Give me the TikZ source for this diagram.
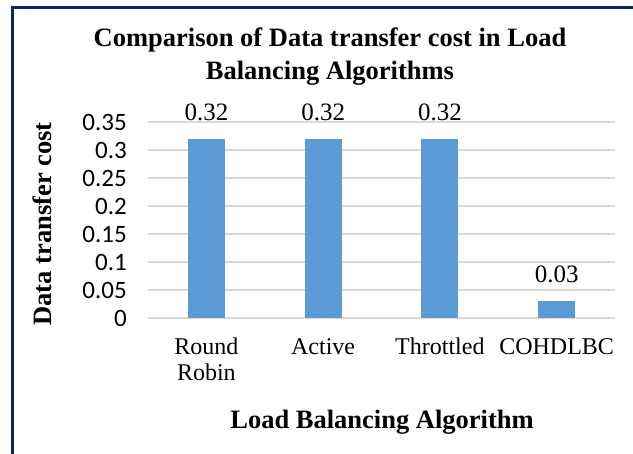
\documentclass[tikz,border=0pt]{standalone}
\usepackage{fontspec}
\setmainfont{Liberation Serif}
\newfontfamily\calibrifont{Carlito}
\usetikzlibrary{positioning}
\definecolor{framenavy}{RGB}{10,36,98}
\definecolor{barblue}{RGB}{91,155,213}
\definecolor{gridgray}{RGB}{217,217,217}
\tikzset{
    gridline/.style={draw=gridgray, line width=1.5pt},
    costbar/.style={fill=barblue, draw=none, minimum width=37pt, inner sep=0pt, anchor=south},
    ticklabel/.style={font=\calibrifont\fontsize{25}{28}\selectfont, anchor=east, inner sep=0pt},
    valuelabel/.style={font=\fontsize{25}{28}\selectfont, inner sep=0pt},
    catlabel/.style={font=\fontsize{24}{26}\selectfont, align=center, inner sep=0pt, anchor=base},
    axistitle/.style={font=\bfseries\fontsize{26.5}{33}\selectfont, inner sep=0pt, anchor=base}
}

\begin{document}
\begin{tikzpicture}[x=1pt, y=1pt]
    \useasboundingbox (0,0) rectangle (633,454);
    \draw [framenavy, line width=3pt] (12.5,-5) -- (12.5,446.5) -- (640,446.5);
    \node [axistitle, align=center] (title) at (330,374) {Comparison of Data transfer cost in Load\\Balancing Algorithms};
    \node [axistitle, rotate=90] (ytitle) at (51,230) {Data transfer cost};
    \node [axistitle] (xtitle) at (382,25) {Load Balancing Algorithm};
    \begin{scope}[shift={(148,136)}]
        \foreach \k/\t in {0/0, 1/0.05, 2/0.1, 3/0.15, 4/0.2, 5/0.25, 6/0.3, 7/0.35} {
            \draw [gridline] (0,\k*28) -- (467,\k*28);
            \node [ticklabel] (tick\k) at (-21,\k*28) {\t};
        }
        \foreach \i/\v/\nm/\txt in {1/0.32/rr/{Round\\Robin}, 2/0.32/act/Active, 3/0.32/thr/Throttled, 4/0.03/coh/COHDLBC} {
            \node [costbar, minimum height=\v*560pt] (bar-\nm) at ({(\i-0.5)*116.75},0) {};
            \node [valuelabel, above=17.5pt of bar-\nm] (val-\nm) {\v};
            \coordinate (catpos-\nm) at ({(\i-0.5)*116.75},-37);
        }
        \node [catlabel] (cat-rr) at ([yshift=-26pt]catpos-rr) {Round\\Robin};
        \node [catlabel] (cat-act) at (catpos-act) {Active};
        \node [catlabel] (cat-thr) at (catpos-thr) {Throttled};
        \node [catlabel] (cat-coh) at (catpos-coh) {COHDLBC};
    \end{scope}
\end{tikzpicture}
\end{document}
